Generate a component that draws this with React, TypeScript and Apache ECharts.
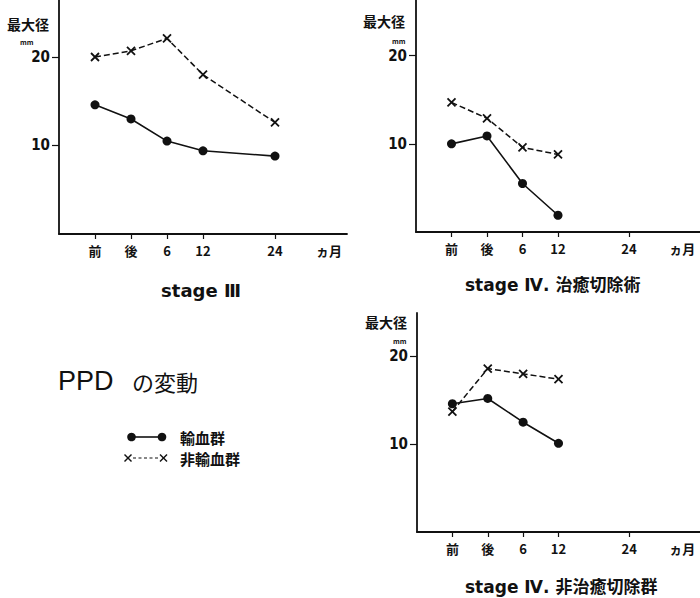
import React, { useEffect, useRef } from "react";
import * as echarts from "echarts";

// ---- data ----
const xLabels = ["前", "後", "6", "12", "24"];
const xPositions = [0, 1, 2, 3, 5];
const monthUnitPos = 6.5;
const monthUnitLabel = "ヵ月";
const yTicks = [10, 20];

const stage3Transfused = [14.6, 13.0, 10.5, 9.4, 8.8];
const stage3NonTransfused = [20.0, 20.7, 22.1, 18.0, 12.6];
const curativeTransfused = [10.0, 10.9, 5.5, 1.9];
const curativeNonTransfused = [14.7, 12.9, 9.6, 8.8];
const nonCurativeTransfused = [14.6, 15.2, 12.5, 10.1];
const nonCurativeNonTransfused = [13.7, 18.6, 18.0, 17.4];

const seriesNames = ["輸血群", "非輸血群"];
const panelTitles = ["stage Ⅲ", "stage Ⅳ. 治癒切除術", "stage Ⅳ. 非治癒切除群"];
const yAxisTitle = "最大径";
const yAxisUnit = "mm";
const mainTitle = ["PPD", "の変動"];

const toPairs = (vals: number[]) => vals.map((v, i) => [xPositions[i], v]);

const BLACK = "#111";
const CJK = '"Noto Sans CJK JP", "DejaVu Sans", sans-serif';
const NUM = '"DejaVu Sans Condensed", "Liberation Sans Narrow", "DejaVu Sans", sans-serif';
const CROSS = "path://M0,0L10,10M0,10L10,0";

function xAxisCfg(gridIndex: number) {
  return {
    type: "value",
    gridIndex,
    min: -1,
    max: 7,
    axisLine: { show: true, onZero: false, lineStyle: { color: BLACK, width: 1.8 } },
    axisTick: { show: true, customValues: xPositions, length: 5, lineStyle: { color: BLACK, width: 1.2 } },
    axisLabel: {
      show: true,
      customValues: [...xPositions, monthUnitPos],
      margin: 10,
      fontSize: 13,
      fontWeight: "bold",
      color: BLACK,
      fontFamily: CJK,
      formatter: (v: number) => {
        if (v === monthUnitPos) return monthUnitLabel;
        const i = xPositions.indexOf(v);
        return i >= 0 ? xLabels[i] : "";
      },
    },
    splitLine: { show: false },
  };
}

function yAxisCfg(gridIndex: number, max: number) {
  return {
    type: "value",
    gridIndex,
    min: 0,
    max,
    axisLine: { show: true, onZero: false, lineStyle: { color: BLACK, width: 1.8 } },
    axisTick: { show: true, customValues: yTicks, length: 7, lineStyle: { color: BLACK, width: 1.2 } },
    axisLabel: {
      show: true,
      customValues: yTicks,
      margin: 9,
      fontSize: 15,
      fontWeight: "bold",
      color: BLACK,
      fontFamily: NUM,
    },
    splitLine: { show: false },
  };
}

function solidSeries(idx: number, vals: number[]) {
  return {
    name: seriesNames[0],
    type: "line",
    xAxisIndex: idx,
    yAxisIndex: idx,
    data: toPairs(vals),
    symbol: "circle",
    symbolSize: 9,
    itemStyle: { color: BLACK },
    lineStyle: { color: BLACK, width: 1.6, type: "solid" },
  };
}

function dashedSeries(idx: number, vals: number[]) {
  return {
    name: seriesNames[1],
    type: "line",
    xAxisIndex: idx,
    yAxisIndex: idx,
    data: toPairs(vals),
    symbol: CROSS,
    symbolSize: 8,
    itemStyle: { color: BLACK, borderColor: BLACK, borderWidth: 1.8 },
    lineStyle: { color: BLACK, width: 1.5, type: [6, 3] },
  };
}

function txt(x: number, y: number, text: string, fontSize: number, opts: any = {}) {
  return {
    type: "text",
    x,
    y,
    style: {
      text,
      fontSize,
      lineHeight: opts.lineHeight ?? fontSize,
      fontWeight: opts.weight ?? "bold",
      fontFamily: opts.family ?? CJK,
      fill: BLACK,
      align: opts.align ?? "left",
      verticalAlign: "middle",
    },
  };
}

export default function App() {
  const ref = useRef<HTMLDivElement>(null);
  useEffect(() => {
    if (!ref.current) return;
    const chart = echarts.init(ref.current, null, { renderer: "svg" });
    const option: any = {
      animation: false,
      backgroundColor: "#fff",
      grid: [
        { left: 59, top: 0, width: 288, height: 234 },
        { left: 416, top: 0, width: 284, height: 232 },
        { left: 417, top: 313, width: 283, height: 219 },
      ],
      xAxis: [xAxisCfg(0), xAxisCfg(1), xAxisCfg(2)],
      yAxis: [yAxisCfg(0, 26.44), yAxisCfg(1, 26.32), yAxisCfg(2, 24.93)],
      series: [
        dashedSeries(0, stage3NonTransfused),
        solidSeries(0, stage3Transfused),
        dashedSeries(1, curativeNonTransfused),
        solidSeries(1, curativeTransfused),
        dashedSeries(2, nonCurativeNonTransfused),
        solidSeries(2, nonCurativeTransfused),
      ],
      graphic: [
        // y-axis titles
        txt(7, 24, yAxisTitle, 14),
        txt(20, 42, yAxisUnit, 7),
        txt(363, 21, yAxisTitle, 14),
        txt(392, 41, yAxisUnit, 7),
        txt(365, 322, yAxisTitle, 14),
        txt(393, 341, yAxisUnit, 7),
        // panel titles
        txt(201, 290, panelTitles[0], 18, { align: "center", family: '"DejaVu Sans", ' + CJK }),
        txt(465, 285, panelTitles[1], 17, { family: '"DejaVu Sans", ' + CJK }),
        txt(465, 587, panelTitles[2], 17, { family: '"DejaVu Sans", ' + CJK }),
        // main title
        txt(58, 381, mainTitle[0], 27, { weight: "normal", family: '"Liberation Sans", sans-serif' }),
        txt(132, 381, mainTitle[1], 22, { weight: "normal" }),
        // legend: transfused
        { type: "line", shape: { x1: 131, y1: 437, x2: 162, y2: 437 }, style: { stroke: BLACK, lineWidth: 1.6 } },
        { type: "circle", shape: { cx: 131.5, cy: 437, r: 4.3 }, style: { fill: BLACK } },
        { type: "circle", shape: { cx: 162, cy: 437, r: 4.3 }, style: { fill: BLACK } },
        txt(180, 437, seriesNames[0], 15),
        // legend: non-transfused
        { type: "line", shape: { x1: 124.5, y1: 454.5, x2: 131.5, y2: 461.5 }, style: { stroke: BLACK, lineWidth: 1.4 } },
        { type: "line", shape: { x1: 124.5, y1: 461.5, x2: 131.5, y2: 454.5 }, style: { stroke: BLACK, lineWidth: 1.4 } },
        { type: "line", shape: { x1: 133, y1: 458, x2: 159, y2: 458 }, style: { stroke: BLACK, lineWidth: 1.2, lineDash: [3, 2.5] } },
        { type: "line", shape: { x1: 160, y1: 454.5, x2: 167, y2: 461.5 }, style: { stroke: BLACK, lineWidth: 1.4 } },
        { type: "line", shape: { x1: 160, y1: 461.5, x2: 167, y2: 454.5 }, style: { stroke: BLACK, lineWidth: 1.4 } },
        txt(180, 458, seriesNames[1], 15),
      ],
    };
    chart.setOption(option);
    return () => chart.dispose();
  }, []);
  return (
    <div
      ref={ref}
      style={{ position: "absolute", left: 0, top: 0, width: 700, height: 598, background: "#fff" }}
    />
  );
}
